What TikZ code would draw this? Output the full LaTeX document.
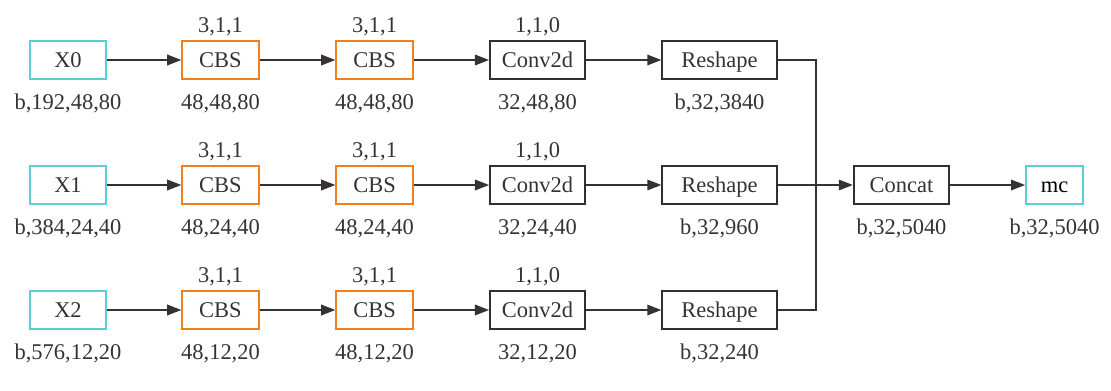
\documentclass[tikz,border=0pt]{standalone}
\usepackage{fontspec}
\setmainfont{Liberation Serif}
\usetikzlibrary{positioning,arrows.meta}

\definecolor{incyan}{HTML}{5BCFD0}
\definecolor{cbsorange}{HTML}{F0801E}
\definecolor{boxdark}{HTML}{2A3139}
\definecolor{textgray}{HTML}{333333}

\tikzset{
  box/.style={draw=boxdark,line width=1.1pt,minimum height=0.76cm,inner sep=0pt,
    text height=1em,text depth=0.2em,
    text=textgray,font=\rmfamily\fontsize{12.8}{15}\selectfont},
  inbox/.style={box,draw=incyan},
  cbsbox/.style={box,draw=cbsorange,minimum width=1.53cm},
  convbox/.style={box,minimum width=1.9cm},
  reshbox/.style={box,minimum width=2.29cm},
  lbl/.style={inner sep=0pt,anchor=base,text=textgray,font=\rmfamily\fontsize{12.8}{15}\selectfont},
  arr/.style={draw=textgray,line width=1pt,-{Triangle[length=8pt,width=6pt]}},
  wire/.style={draw=textgray,line width=1pt}
}

\begin{document}
\begin{tikzpicture}[x=0.02cm,y=-0.02cm]
\useasboundingbox (0,0) rectangle (1111,391);

\node[inbox,minimum width=1.52cm] (x0) at (68,60) {X0};
\node[cbsbox] (cbsa0) at (220.5,60) {CBS};
\node[cbsbox] (cbsb0) at (374.5,60) {CBS};
\node[convbox] (conv0) at (537.5,60) {Conv2d};
\node[reshbox] (resh0) at (719.5,60) {Reshape};

\node[inbox,minimum width=1.52cm] (x1) at (68,185) {X1};
\node[cbsbox] (cbsa1) at (220.5,185) {CBS};
\node[cbsbox] (cbsb1) at (374.5,185) {CBS};
\node[convbox] (conv1) at (537.5,185) {Conv2d};
\node[reshbox] (resh1) at (719.5,185) {Reshape};

\node[inbox,minimum width=1.52cm] (x2) at (68,310) {X2};
\node[cbsbox] (cbsa2) at (220.5,310) {CBS};
\node[cbsbox] (cbsb2) at (374.5,310) {CBS};
\node[convbox] (conv2) at (537.5,310) {Conv2d};
\node[reshbox] (resh2) at (719.5,310) {Reshape};

\node[box,minimum width=1.91cm] (concat) at (901.5,185) {Concat};
\node[inbox,minimum width=1.14cm,text=black] (mc) at (1054.5,185) {mc};
\coordinate (join) at (816,185);

\node[above=0.145cm of cbsa0,lbl] (cbsa0k) {3,1,1};
\node[above=0.145cm of cbsb0,lbl] (cbsb0k) {3,1,1};
\node[above=0.145cm of conv0,lbl] (conv0k) {1,1,0};
\node[above=0.145cm of cbsa1,lbl] (cbsa1k) {3,1,1};
\node[above=0.145cm of cbsb1,lbl] (cbsb1k) {3,1,1};
\node[above=0.145cm of conv1,lbl] (conv1k) {1,1,0};
\node[above=0.145cm of cbsa2,lbl] (cbsa2k) {3,1,1};
\node[above=0.145cm of cbsb2,lbl] (cbsb2k) {3,1,1};
\node[above=0.145cm of conv2,lbl] (conv2k) {1,1,0};

\node[below=0.59cm of x0,lbl] (x0s) {b,192,48,80};
\node[below=0.59cm of cbsa0,lbl] (cbsa0s) {48,48,80};
\node[below=0.59cm of cbsb0,lbl] (cbsb0s) {48,48,80};
\node[below=0.59cm of conv0,lbl] (conv0s) {32,48,80};
\node[below=0.59cm of resh0,lbl] (resh0s) {b,32,3840};
\node[below=0.59cm of x1,lbl] (x1s) {b,384,24,40};
\node[below=0.59cm of cbsa1,lbl] (cbsa1s) {48,24,40};
\node[below=0.59cm of cbsb1,lbl] (cbsb1s) {48,24,40};
\node[below=0.59cm of conv1,lbl] (conv1s) {32,24,40};
\node[below=0.59cm of resh1,lbl] (resh1s) {b,32,960};
\node[below=0.59cm of x2,lbl] (x2s) {b,576,12,20};
\node[below=0.59cm of cbsa2,lbl] (cbsa2s) {48,12,20};
\node[below=0.59cm of cbsb2,lbl] (cbsb2s) {48,12,20};
\node[below=0.59cm of conv2,lbl] (conv2s) {32,12,20};
\node[below=0.59cm of resh2,lbl] (resh2s) {b,32,240};
\node[below=0.59cm of concat,lbl] (concats) {b,32,5040};
\node[below=0.59cm of mc,lbl] (mcs) {b,32,5040};

\draw[arr] (x0) -- (cbsa0);
\draw[arr] (cbsa0) -- (cbsb0);
\draw[arr] (cbsb0) -- (conv0);
\draw[arr] (conv0) -- (resh0);
\draw[arr] (x1) -- (cbsa1);
\draw[arr] (cbsa1) -- (cbsb1);
\draw[arr] (cbsb1) -- (conv1);
\draw[arr] (conv1) -- (resh1);
\draw[arr] (x2) -- (cbsa2);
\draw[arr] (cbsa2) -- (cbsb2);
\draw[arr] (cbsb2) -- (conv2);
\draw[arr] (conv2) -- (resh2);
\draw[wire] (resh0.east) -| (join);
\draw[wire] (resh2.east) -| (join);
\draw[arr] (resh1) -- (concat);
\draw[arr] (concat) -- (mc);
\end{tikzpicture}
\end{document}
